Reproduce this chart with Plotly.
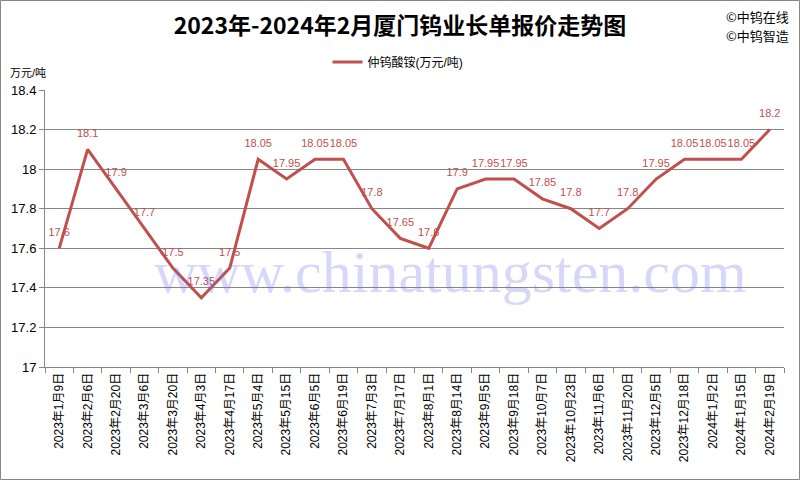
import plotly.graph_objects as go

dates = ["2023年1月9日", "2023年2月6日", "2023年2月20日", "2023年3月6日", "2023年3月20日",
         "2023年4月3日", "2023年4月17日", "2023年5月4日", "2023年5月15日", "2023年6月5日",
         "2023年6月19日", "2023年7月3日", "2023年7月17日", "2023年8月1日", "2023年8月14日",
         "2023年9月5日", "2023年9月18日", "2023年10月7日", "2023年10月23日", "2023年11月6日",
         "2023年11月20日", "2023年12月5日", "2023年12月18日", "2024年1月2日", "2024年1月15日",
         "2024年2月19日"]
prices = [17.6, 18.1, 17.9, 17.7, 17.5, 17.35, 17.5, 18.05, 17.95, 18.05,
          18.05, 17.8, 17.65, 17.6, 17.9, 17.95, 17.95, 17.85, 17.8, 17.7,
          17.8, 17.95, 18.05, 18.05, 18.05, 18.2]
y_ticks = [17, 17.2, 17.4, 17.6, 17.8, 18, 18.2, 18.4]
y_tick_text = ["17", "17.2", "17.4", "17.6", "17.8", "18", "18.2", "18.4"]

FONT = "Liberation Sans, Noto Sans CJK SC, sans-serif"
CJK = "Noto Sans CJK SC, sans-serif"
LINE = "#C0504D"
GRID = "#868686"

L, R, T, B = 45, 16, 90, 113
W, H = 800, 480
pw, ph = W - L - R, H - T - B

fig = go.Figure()
fig.add_trace(go.Scatter(
    x=dates, y=prices, mode="lines+markers+text",
    name="仲钨酸铵(万元/吨)",
    line=dict(color=LINE, width=3),
    marker=dict(size=14, color="rgba(0,0,0,0)"),
    text=[f"{v:g}" for v in prices],
    textposition="top center",
    textfont=dict(color=LINE, size=11, family=FONT),
    cliponaxis=False,
))

fig.update_layout(
    width=W, height=H,
    margin=dict(l=L, r=R, t=T, b=B, autoexpand=False),
    paper_bgcolor="white", plot_bgcolor="white",
    font=dict(family=FONT, color="black"),
    title=dict(text="<b>2023年-2024年2月厦门钨业长单报价走势图</b>",
               x=0.5, xanchor="center", y=1 - 26 / H, yanchor="middle",
               font=dict(size=23, family=CJK, color="black")),
    showlegend=True,
    legend=dict(orientation="h", x=(398 - L) / pw, xanchor="center", y=1 + 28 / ph, yanchor="middle",
                font=dict(size=12, family=FONT), bgcolor="rgba(0,0,0,0)"),
    xaxis=dict(type="category", range=[-0.5, len(dates) - 0.5],
               tickson="boundaries", ticks="outside", ticklen=5, tickcolor=GRID,
               showline=True, linecolor=GRID, linewidth=1, showgrid=False,
               tickangle=-90, tickfont=dict(size=12, family=FONT)),
    yaxis=dict(range=[17, 18.4], tickvals=y_ticks, ticktext=y_tick_text,
               ticks="outside", ticklen=5, tickcolor=GRID,
               showline=True, linecolor=GRID, linewidth=1,
               showgrid=True, gridcolor=GRID, gridwidth=1,
               tickfont=dict(size=13, family=FONT), zeroline=False),
)

fig.add_annotation(text="万元/吨", xref="paper", yref="paper",
                   x=(8 - L) / pw, xanchor="left", y=(H - B - 73) / ph, yanchor="middle",
                   showarrow=False, font=dict(size=11, family=FONT))
fig.add_annotation(text="©中钨在线", xref="paper", yref="paper",
                   x=(791 - L) / pw, y=(H - B - 16) / ph, xanchor="right", yanchor="middle",
                   showarrow=False, font=dict(size=13, family=CJK))
fig.add_annotation(text="©中钨智造", xref="paper", yref="paper",
                   x=(791 - L) / pw, y=(H - B - 36) / ph, xanchor="right", yanchor="middle",
                   showarrow=False, font=dict(size=13, family=CJK))
fig.add_annotation(text="www.chinatungsten.com", xref="paper", yref="paper",
                   x=(450 - L) / pw, y=(H - B - 272) / ph, yanchor="middle", showarrow=False,
                   font=dict(size=60, family="Liberation Serif, serif",
                             color="rgba(110,110,235,0.28)"))
fig.add_shape(type="rect", xref="paper", yref="paper",
              x0=(0.5 - L) / pw, x1=(W - 0.5 - L) / pw,
              y0=(H - B - (H - 0.5)) / ph, y1=(H - B - 0.5) / ph,
              line=dict(color=GRID, width=1), layer="below")

fig.write_html("out.html", config={"displayModeBar": False},
               post_script="document.body.style.margin='0px';document.body.style.overflow='hidden';")
